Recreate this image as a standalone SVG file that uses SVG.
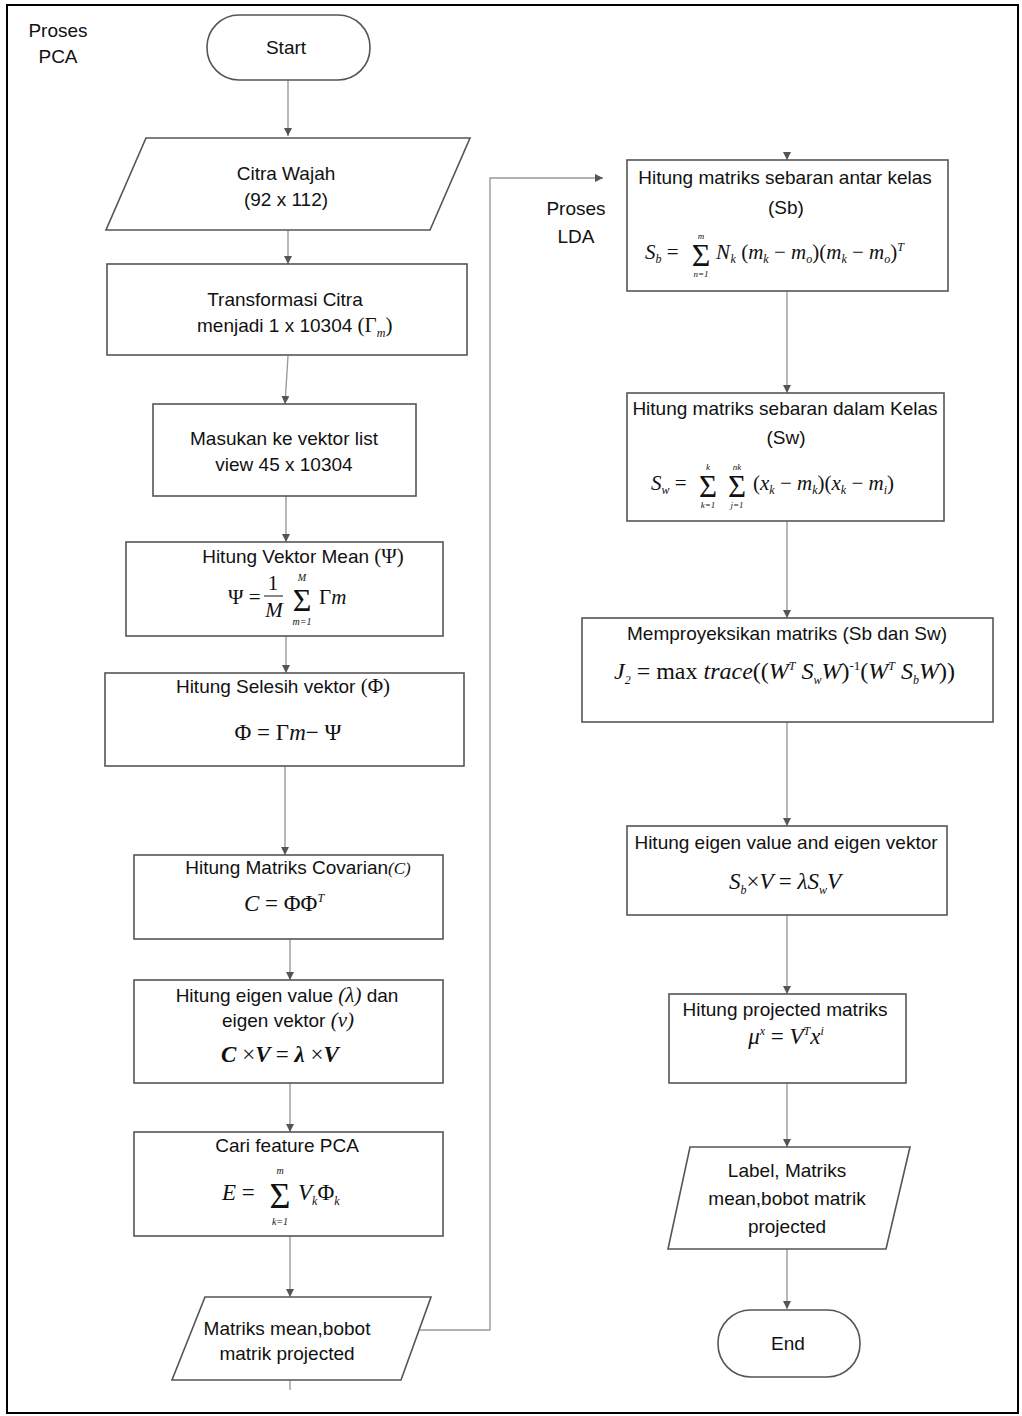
<svg xmlns="http://www.w3.org/2000/svg" width="1022" height="1416" viewBox="0 0 1022 1416">
<defs>
<style>
.t{font-family:"Liberation Sans",Arial,sans-serif;font-size:19px;fill:#111;text-anchor:middle}
.m{font-family:"Liberation Serif","Times New Roman",serif;font-size:21px;font-style:italic;fill:#111}
.mu{font-family:"Liberation Serif","Times New Roman",serif;font-style:normal;fill:#111}
.s{font-size:12px}
.lim{font-style:italic;font-size:10px;text-anchor:middle}
.sg{font-style:normal;text-anchor:middle}
.box{fill:#fff;stroke:#555;stroke-width:1.6}
.c{fill:none;stroke:#9a9a9a;stroke-width:1.4}
</style>
<marker id="ah" viewBox="0 0 10 10" refX="10" refY="5" markerWidth="8" markerHeight="8" orient="auto" markerUnits="userSpaceOnUse">
<path d="M0,0 L10,5 L0,10 z" fill="#555"/>
</marker>
</defs>
<rect x="0" y="0" width="1022" height="1416" fill="#fff"/>
<rect x="7" y="5" width="1011" height="1408" fill="none" stroke="#000" stroke-width="2"/>

<g id="labels">
<text class="t" x="58" y="37">Proses</text>
<text class="t" x="58" y="63">PCA</text>
<text class="t" x="576" y="215">Proses</text>
<text class="t" x="576" y="243">LDA</text>
</g>

<g id="connectors">
<line class="c" x1="288" y1="80" x2="288" y2="136" marker-end="url(#ah)"/>
<line class="c" x1="288" y1="230" x2="288" y2="264" marker-end="url(#ah)"/>
<line class="c" x1="288" y1="356" x2="285" y2="404" marker-end="url(#ah)"/>
<line class="c" x1="286" y1="496" x2="286" y2="542" marker-end="url(#ah)"/>
<line class="c" x1="286" y1="636" x2="286" y2="673" marker-end="url(#ah)"/>
<line class="c" x1="285" y1="766" x2="285" y2="855" marker-end="url(#ah)"/>
<line class="c" x1="290" y1="939" x2="290" y2="980" marker-end="url(#ah)"/>
<line class="c" x1="290" y1="1083" x2="290" y2="1132" marker-end="url(#ah)"/>
<line class="c" x1="290" y1="1236" x2="290" y2="1297" marker-end="url(#ah)"/>
<line class="c" x1="290" y1="1380" x2="290" y2="1390"/>
<polyline class="c" points="408,1330 490,1330 490,178 603,178" marker-end="url(#ah)"/>
<line class="c" x1="787" y1="154" x2="787" y2="160" marker-end="url(#ah)"/>
<line class="c" x1="787" y1="291" x2="787" y2="393" marker-end="url(#ah)"/>
<line class="c" x1="787" y1="521" x2="787" y2="618" marker-end="url(#ah)"/>
<line class="c" x1="787" y1="722" x2="787" y2="826" marker-end="url(#ah)"/>
<line class="c" x1="787" y1="915" x2="787" y2="994" marker-end="url(#ah)"/>
<line class="c" x1="787" y1="1083" x2="787" y2="1147" marker-end="url(#ah)"/>
<line class="c" x1="787" y1="1249" x2="787" y2="1309" marker-end="url(#ah)"/>
</g>

<g id="start">
<rect class="box" x="207" y="15" width="163" height="65" rx="32" ry="32"/>
<text class="t" x="286" y="54">Start</text>
</g>

<g id="citra">
<polygon class="box" points="146,138 470,138 430,230 106,230"/>
<text class="t" x="286" y="180">Citra Wajah</text>
<text class="t" x="286" y="206">(92 x 112)</text>
</g>

<g id="transformasi">
<rect class="box" x="107" y="264" width="360" height="91"/>
<text class="t" x="285" y="306">Transformasi Citra</text>
<text class="t" x="197" y="332" style="text-anchor:start">menjadi 1 x 10304 <tspan class="mu" style="font-size:21px">(Γ<tspan class="m s" dy="5">m</tspan><tspan dy="-5">)</tspan></tspan></text>
</g>

<g id="masukan">
<rect class="box" x="153" y="404" width="263" height="92"/>
<text class="t" x="284" y="445">Masukan ke vektor list</text>
<text class="t" x="284" y="471">view 45 x 10304</text>
</g>

<g id="mean">
<rect class="box" x="126" y="542" width="317" height="94"/>
<text class="t" x="303" y="563">Hitung Vektor Mean <tspan class="mu" style="font-size:21px">(Ψ)</tspan></text>
<line x1="264" y1="596" x2="283" y2="596" stroke="#111" stroke-width="1"/>
<text class="m"><tspan class="mu" x="228" y="604">Ψ =</tspan><tspan class="mu sg" x="273" y="590">1</tspan><tspan style="text-anchor:middle" x="274" y="617">M</tspan><tspan class="sg" x="302" y="611" style="font-size:32px">Σ</tspan><tspan class="lim" x="302" y="581">M</tspan><tspan class="lim" x="302" y="625">m=1</tspan><tspan class="mu" x="319" y="604">Γ</tspan><tspan>m</tspan></text>
</g>

<g id="selesih">
<rect class="box" x="105" y="673" width="359" height="93"/>
<text class="t" x="283" y="693">Hitung Selesih vektor <tspan class="mu" style="font-size:21px">  (Φ)</tspan></text>
<text class="mu" x="288" y="740" text-anchor="middle" style="font-size:23px">Φ = Γ<tspan class="m" style="font-size:23px">m</tspan>− Ψ</text>
</g>

<g id="covarian">
<rect class="box" x="134" y="855" width="309" height="84"/>
<text class="t" x="298" y="874">Hitung Matriks Covarian<tspan class="m" style="font-size:17px">(C)</tspan></text>
<text class="m" x="284" y="911" text-anchor="middle" style="font-size:23px">C <tspan class="mu">= ΦΦ</tspan><tspan class="s" dy="-9">T</tspan></text>
</g>

<g id="eigen-pca">
<rect class="box" x="134" y="980" width="309" height="103"/>
<text class="t" x="287" y="1002">Hitung eigen value <tspan class="m">(λ)</tspan> dan</text>
<text class="t" x="288" y="1027">eigen vektor <tspan class="m">(ν)</tspan></text>
<text class="m" x="280" y="1062" text-anchor="middle" style="font-size:23px;font-weight:bold">C <tspan class="mu" style="font-weight:normal">×</tspan>V <tspan class="mu" style="font-weight:normal">=</tspan> λ <tspan class="mu" style="font-weight:normal">×</tspan>V</text>
</g>

<g id="feature">
<rect class="box" x="134" y="1132" width="309" height="104"/>
<text class="t" x="287" y="1152">Cari feature PCA</text>
<text class="m" style="font-size:23px"><tspan x="222" y="1200">E </tspan><tspan class="mu">=</tspan><tspan class="sg" x="280" y="1208" style="font-size:36px">Σ</tspan><tspan class="lim" x="280" y="1174">m</tspan><tspan class="lim" x="280" y="1225">k=1</tspan><tspan x="298" y="1200">V</tspan><tspan class="s" dy="5">k</tspan><tspan class="mu" dy="-5">Φ</tspan><tspan class="s" dy="5">k</tspan></text>
</g>

<g id="matriks-mean">
<polygon class="box" points="205,1297 431,1297 401,1380 172,1380"/>
<text class="t" x="287" y="1335">Matriks mean,bobot</text>
<text class="t" x="287" y="1360">matrik projected</text>
</g>

<g id="sb">
<rect class="box" x="627" y="160" width="321" height="131"/>
<text class="t" x="785" y="184">Hitung matriks sebaran antar kelas</text>
<text class="t" x="786" y="214">(Sb)</text>
<text class="m" style="font-size:21px"><tspan x="645" y="259">S</tspan><tspan class="s" dy="4">b</tspan><tspan class="mu" dy="-4"> =</tspan><tspan class="sg" x="701" y="266" style="font-size:32px">Σ</tspan><tspan class="lim" x="701" y="239" style="font-size:9px">m</tspan><tspan class="lim" x="701" y="277" style="font-size:9px">n=1</tspan><tspan x="716" y="259" style="letter-spacing:0.6px">N</tspan><tspan class="s" dy="4">k</tspan><tspan class="mu" dy="-4"> (</tspan>m<tspan class="s" dy="4">k</tspan><tspan class="mu" dy="-4"> − </tspan>m<tspan class="s" dy="4">o</tspan><tspan class="mu" dy="-4">)(</tspan>m<tspan class="s" dy="4">k</tspan><tspan class="mu" dy="-4"> − </tspan>m<tspan class="s" dy="4">o</tspan><tspan class="mu" dy="-4">)</tspan><tspan class="s" dy="-8">T</tspan></text>
</g>

<g id="sw">
<rect class="box" x="627" y="393" width="317" height="128"/>
<text class="t" x="785" y="415">Hitung matriks sebaran dalam Kelas</text>
<text class="t" x="786" y="444">(Sw)</text>
<text class="m" style="font-size:21px"><tspan x="651" y="490">S</tspan><tspan class="s" dy="4">w</tspan><tspan class="mu" dy="-4"> =</tspan><tspan class="sg" x="708" y="497" style="font-size:31px">Σ</tspan><tspan class="lim" x="708" y="470" style="font-size:9px">k</tspan><tspan class="lim" x="708" y="508" style="font-size:9px">k=1</tspan><tspan class="sg" x="737" y="497" style="font-size:31px">Σ</tspan><tspan class="lim" x="737" y="470" style="font-size:9px">nk</tspan><tspan class="lim" x="737" y="508" style="font-size:9px">j=1</tspan><tspan class="mu" x="753" y="490">(</tspan>x<tspan class="s" dy="4">k</tspan><tspan class="mu" dy="-4"> − </tspan>m<tspan class="s" dy="4">k</tspan><tspan class="mu" dy="-4">)(</tspan>x<tspan class="s" dy="4">k</tspan><tspan class="mu" dy="-4"> − </tspan>m<tspan class="s" dy="4">i</tspan><tspan class="mu" dy="-4">)</tspan></text>
</g>

<g id="proyeksi">
<rect class="box" x="582" y="618" width="411" height="104"/>
<text class="t" x="787" y="640">Memproyeksikan matriks (Sb dan Sw)</text>
<text class="m" x="614" y="679" style="font-size:24px">J<tspan class="s" dy="5">2</tspan><tspan class="mu" dy="-5"> = max </tspan>trace<tspan class="mu">((</tspan>W<tspan class="s" dy="-9">T</tspan><tspan dy="9"> S</tspan><tspan class="s" dy="5">w</tspan><tspan dy="-5">W</tspan><tspan class="mu">)</tspan><tspan class="mu" dy="-9" style="font-size:13px">-1</tspan><tspan class="mu" dy="9">(</tspan>W<tspan class="s" dy="-9">T</tspan><tspan dy="9"> S</tspan><tspan class="s" dy="5">b</tspan><tspan dy="-5">W</tspan><tspan class="mu">))</tspan></text>
</g>

<g id="eigen-lda">
<rect class="box" x="627" y="826" width="320" height="89"/>
<text class="t" x="786" y="849">Hitung eigen value and eigen vektor</text>
<text class="m" x="785" y="889" text-anchor="middle" style="font-size:23px">S<tspan class="s" dy="5">b</tspan><tspan class="mu" dy="-5">×</tspan>V <tspan class="mu">=</tspan> λS<tspan class="s" dy="5">w</tspan><tspan dy="-5">V</tspan></text>
</g>

<g id="projected">
<rect class="box" x="669" y="994" width="237" height="89"/>
<text class="t" x="785" y="1016">Hitung projected matriks</text>
<text class="m" x="786" y="1044" text-anchor="middle" style="font-size:23px">μ<tspan class="s" dy="-9">x</tspan><tspan class="mu" dy="9"> = </tspan>V<tspan class="s" dy="-9">T</tspan><tspan dy="9">x</tspan><tspan class="s" dy="-9">i</tspan></text>
</g>

<g id="label-out">
<polygon class="box" points="690,1147 910,1147 886,1249 668,1249"/>
<text class="t" x="787" y="1177">Label, Matriks</text>
<text class="t" x="787" y="1205">mean,bobot matrik</text>
<text class="t" x="787" y="1233">projected</text>
</g>

<g id="end">
<rect class="box" x="718" y="1310" width="142" height="67" rx="33" ry="33"/>
<text class="t" x="788" y="1350">End</text>
</g>
</svg>
